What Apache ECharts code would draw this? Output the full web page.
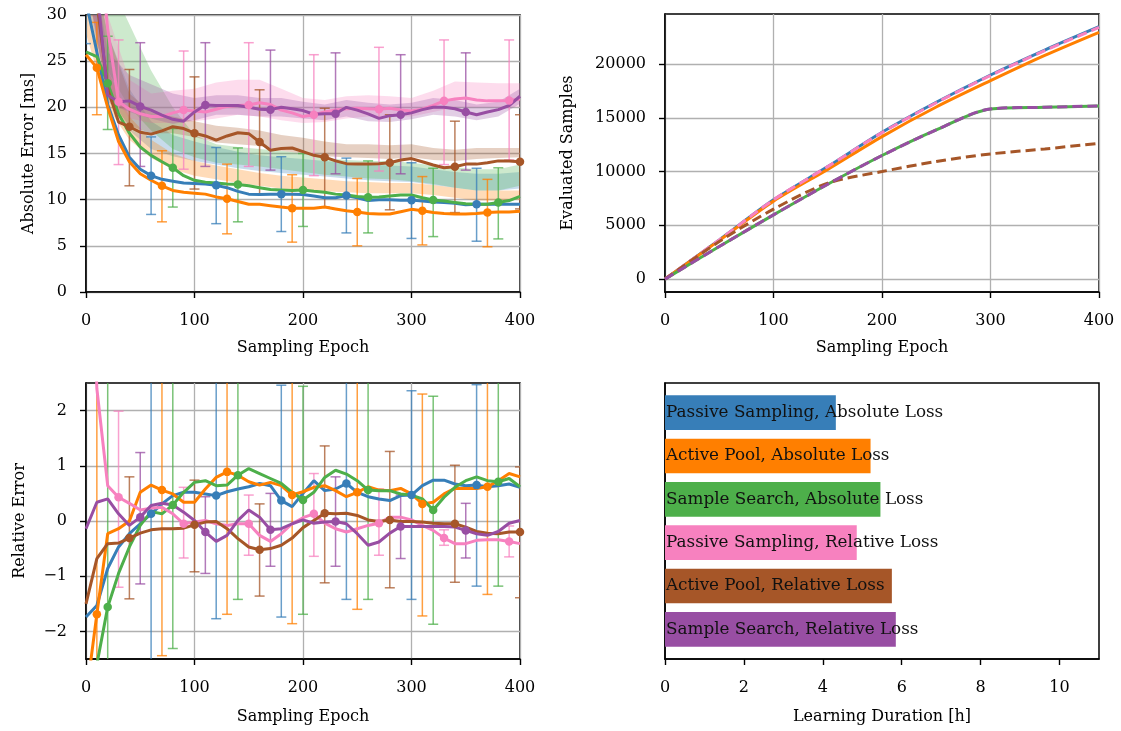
<!DOCTYPE html>
<html><head><meta charset="utf-8">
<script src="https://cdn.jsdelivr.net/npm/echarts@6/dist/echarts.min.js"></script>
<style>html,body{margin:0;padding:0;background:#fff}#c{width:1121px;height:731px}</style>
</head><body><div id="c"></div>
<script>
const FONT = 'DejaVu Serif';
const COLORS = ['#377eb8', '#ff7f00', '#4daf4a', '#f781bf', '#a65628', '#984ea3'];

const epochs = [0,10,20,30,40,50,60,70,80,90,100,110,120,130,140,150,160,170,180,190,200,210,220,230,240,250,260,270,280,290,300,310,320,330,340,350,360,370,380,390,400];
const bandEpochs = [0,20,40,60,80,100,120,140,160,180,200,220,240,260,280,300,320,340,360,380,400];

// Absolute error [ms]
const absBlue   = [31.5,26.0,20.3,17.0,14.6,13.3,12.6,12.2,12.0,11.8,11.75,11.7,11.55,11.3,10.9,10.6,10.55,10.6,10.6,10.6,10.55,10.4,10.2,10.2,10.45,10.2,9.9,10.0,10.0,9.95,9.95,9.85,9.75,9.7,9.6,9.45,9.5,9.5,9.5,9.5,9.5];
const absOrange = [25.7,24.3,20.0,16.3,14.1,12.8,12.1,11.5,11.0,10.8,10.7,10.6,10.3,10.1,9.8,9.5,9.5,9.35,9.2,9.06,9.06,9.06,9.2,9.0,8.8,8.67,8.5,8.45,8.45,8.7,8.95,8.8,8.6,8.5,8.45,8.45,8.5,8.6,8.67,8.67,8.75];
const absGreen  = [26.0,25.5,22.6,19.3,17.2,15.7,14.8,14.1,13.45,12.6,12.1,11.9,11.8,11.7,11.65,11.5,11.3,11.1,11.05,11.0,11.05,10.9,10.8,10.6,10.5,10.35,10.25,10.3,10.4,10.5,10.5,10.2,9.96,9.85,9.7,9.55,9.5,9.5,9.7,9.9,10.35];
const absPink   = [40,40,28.5,20.6,19.8,19.3,19.0,19.0,19.4,19.7,19.6,19.5,19.8,20.1,20.2,20.25,20.5,20.3,19.7,19.4,19.0,19.2,19.5,19.7,19.85,19.9,19.85,19.8,19.9,19.7,19.6,19.8,20.2,20.7,20.9,21.0,20.8,20.7,20.7,20.75,20.9];
const absBrown  = [40,31.5,22.0,18.4,17.9,17.3,17.1,17.45,17.9,17.7,17.2,16.9,16.45,16.9,17.25,17.15,16.25,15.35,15.55,15.6,15.2,14.8,14.6,14.2,13.9,13.85,13.85,13.9,14.0,14.3,14.45,14.1,13.75,13.45,13.56,13.85,13.85,14.0,14.2,14.2,14.1];
const absPurple = [40,33,21.3,20.6,20.7,20.1,19.7,19.15,18.7,18.5,19.5,20.25,20.2,20.2,20.2,20.0,19.8,19.75,20.0,19.85,19.65,19.25,19.3,19.3,20.0,19.7,19.3,18.8,19.1,19.2,19.4,19.75,20.0,20.0,19.85,19.5,19.2,19.5,19.75,20.2,21.2];

// shaded bands (lower / upper), every 20 epochs
const bandBlueLo   = [32,22,17.5,15.5,14.7,14.2,13.8,13.4,13.1,12.9,12.7,12.5,12.3,12.1,12.0,11.9,11.6,11.3,11.0,11.0,11.2];
const bandBlueHi   = [38,28,22,18.5,17.0,16.3,15.7,15.2,14.8,14.6,14.4,14.2,14.0,13.8,13.7,13.6,13.3,13.0,12.8,12.8,13.0];
const bandOrangeLo = [28,20,16.5,14.5,13.3,12.6,12.2,11.8,11.5,11.2,11.0,10.9,10.8,10.7,10.7,10.7,10.5,10.2,9.9,9.9,10.0];
const bandOrangeHi = [34,24,19,16.5,15.0,14.2,13.7,13.3,12.9,12.6,12.4,12.2,12.0,11.9,11.8,11.8,11.6,11.3,11.0,11.0,11.0];
const bandGreenLo  = [34,24,20,17.5,15.5,14.6,14.0,13.8,13.6,13.3,13.0,12.7,12.5,12.3,12.2,12.0,11.7,11.3,11.0,11.0,11.5];
const bandGreenHi  = [40,34,29,24,20,17.0,16.0,15.7,15.5,15.3,15.0,14.5,14.3,14.2,14.2,14.0,13.7,13.5,13.3,13.3,13.8];
const bandPinkLo   = [34,22,18.8,18.3,18.3,18.5,18.8,19.2,19.0,18.6,18.3,18.4,18.8,19.0,19.0,19.0,19.5,20.0,20.0,20.0,20.0];
const bandPinkHi   = [40,30,23.0,21.5,21.8,22.0,22.7,23.0,23.0,22.0,21.0,20.8,21.2,21.3,21.2,21.0,21.8,22.8,22.7,22.6,22.6];
const bandBrownLo  = [34,21,18.0,17.2,17.2,16.8,16.2,16.0,15.8,15.3,15.0,14.7,14.6,14.5,14.4,14.6,14.3,14.2,14.4,14.5,14.6];
const bandBrownHi  = [40,28,21.5,19.5,19.0,18.5,18.0,17.8,17.5,17.0,16.7,16.3,16.0,16.0,15.9,16.0,15.6,15.4,15.6,15.6,15.6];
const bandPurpleLo = [34,20.5,19.5,18.8,18.2,18.6,19.2,19.2,19.0,19.0,18.8,18.6,19.0,18.5,18.4,18.7,19.2,19.0,18.6,19.0,20.4];
const bandPurpleHi = [40,26,23.5,22.5,21.5,21.0,21.3,21.3,21.0,21.0,20.6,20.3,20.8,20.5,20.3,20.5,21.0,20.8,20.3,20.6,22.0];

// error bars [epoch, low, high]
const errBlueAbs   = [[0,26.9,36],[60,8.4,16.8],[120,7.4,15.65],[180,6.55,14.65],[240,6.4,14.5],[300,5.8,14.0],[360,5.5,13.4]];
const errOrangeAbs = [[10,19.2,29.2],[70,7.6,15.3],[130,6.3,13.85],[190,5.4,12.7],[250,5.0,12.3],[310,5.1,12.5],[370,4.9,12.2]];
const errGreenAbs  = [[20,17.6,27.7],[80,9.2,17.7],[140,7.6,15.6],[200,7.1,15.0],[260,6.4,14.2],[320,6.0,13.4],[380,5.75,13.45]];
const errPinkAbs   = [[30,13.8,27.3],[90,13.3,26.1],[150,13.6,27.0],[210,12.6,25.7],[270,13.1,26.5],[330,13.8,27.3],[390,14.3,27.3]];
const errBrownAbs  = [[40,11.5,24.1],[100,11.15,23.3],[160,10.6,21.9],[220,9.2,19.9],[280,8.9,19.2],[340,8.6,18.5],[400,9.0,19.2]];
const errPurpleAbs = [[50,13.6,27.0],[110,13.6,27.0],[170,13.2,26.2],[230,12.8,25.9],[290,12.8,25.7],[350,13.2,25.9]];

// Relative error
const relBlue   = [-1.74,-1.53,-0.86,-0.47,-0.23,-0.05,0.13,0.31,0.46,0.52,0.52,0.49,0.46,0.53,0.58,0.62,0.68,0.64,0.37,0.26,0.5,0.73,0.55,0.58,0.68,0.52,0.44,0.40,0.37,0.46,0.47,0.64,0.74,0.74,0.67,0.64,0.65,0.62,0.64,0.67,0.61];
const relOrange = [-3.2,-1.69,-0.23,-0.14,0.0,0.52,0.65,0.56,0.49,0.34,0.34,0.58,0.79,0.89,0.83,0.71,0.65,0.70,0.64,0.47,0.53,0.61,0.64,0.55,0.44,0.52,0.62,0.56,0.55,0.59,0.49,0.31,0.34,0.49,0.59,0.59,0.59,0.62,0.73,0.86,0.80];
const relGreen  = [-5.0,-2.6,-1.56,-0.95,-0.47,-0.08,0.17,0.13,0.29,0.52,0.70,0.73,0.64,0.65,0.83,0.95,0.86,0.77,0.68,0.52,0.38,0.52,0.79,0.92,0.85,0.73,0.56,0.55,0.55,0.49,0.47,0.40,0.20,0.43,0.61,0.73,0.80,0.73,0.71,0.77,0.62];
const relPink   = [8.0,2.4,0.64,0.43,0.32,0.20,0.23,0.25,0.13,-0.05,-0.02,0.01,-0.05,-0.08,-0.05,-0.05,-0.26,-0.37,-0.23,-0.05,0.06,0.13,-0.04,-0.14,-0.20,-0.14,-0.08,-0.04,0.07,0.07,0.02,-0.08,-0.17,-0.31,-0.41,-0.41,-0.35,-0.34,-0.34,-0.37,-0.41];
const relBrown  = [-1.5,-0.68,-0.41,-0.40,-0.31,-0.22,-0.16,-0.14,-0.14,-0.13,-0.07,-0.02,-0.01,-0.14,-0.32,-0.47,-0.52,-0.50,-0.44,-0.31,-0.12,0.01,0.14,0.13,0.14,0.10,0.02,-0.01,0.02,-0.01,-0.01,-0.02,-0.04,-0.05,-0.05,-0.11,-0.19,-0.22,-0.23,-0.20,-0.20];
const relPurple = [-0.14,0.34,0.40,0.13,-0.08,0.07,0.28,0.32,0.29,0.16,0.01,-0.20,-0.37,-0.26,0.01,0.20,0.07,-0.16,-0.14,-0.05,0.02,-0.04,-0.02,-0.01,-0.05,-0.23,-0.44,-0.38,-0.22,-0.10,-0.10,-0.10,-0.10,-0.10,-0.11,-0.17,-0.23,-0.26,-0.19,-0.04,0.01];

const errBlueRel   = [[60,-6,4],[120,-1.77,4],[180,-1.74,2.46],[240,-1.42,4],[300,-1.42,2.36],[360,-1.18,2.47]];
const errOrangeRel = [[10,-6,4],[70,-2.44,4],[130,-1.69,4],[190,-1.86,4],[250,-1.60,4],[310,-1.72,2.30],[370,-1.33,4]];
const errGreenRel  = [[20,-6,4],[80,-2.31,4],[140,-1.42,4],[200,-1.69,2.44],[260,-1.42,4],[320,-1.87,2.26],[380,-1.18,4]];
const errPinkRel   = [[30,-1.2,1.99],[90,-0.67,0.61],[150,-0.62,0.47],[210,-0.64,0.86],[270,-0.62,0.58],[330,-0.44,-0.16],[390,-0.65,-0.09]];
const errBrownRel  = [[40,-1.41,0.80],[100,-0.92,0.74],[160,-1.36,0.31],[220,-1.12,1.36],[280,-1.21,1.26],[340,-1.11,1.01],[400,-1.39,0.98]];
const errPurpleRel = [[50,-1.14,1.24],[110,-0.95,0.44],[170,-0.82,0.50],[230,-0.82,0.80],[290,-0.68,0.47],[350,-0.67,0.32]];

// Evaluated samples
const sampEpochs = [0,50,100,150,200,250,300,350,400];
const sampBlue   = [0,3650,7370,10460,13650,16440,18980,21300,23470];
const sampOrange = [0,3600,7250,10200,13250,16000,18450,20800,22950];
const sampGreen  = [0,3030,5975,8820,11490,13870,15820,15980,16100];
const sampPink   = [0,3650,7370,10460,13620,16400,18930,21250,23400];
const sampBrown  = [0,3500,6500,8920,10000,10930,11640,12100,12630];
const sampPurple = [0,3030,5975,8820,11490,13870,15820,15980,16100];

// Learning duration
const methods = ['Passive Sampling, Absolute Loss','Active Pool, Absolute Loss','Sample Search, Absolute Loss','Passive Sampling, Relative Loss','Active Pool, Relative Loss','Sample Search, Relative Loss'];
const durations = [4.33, 5.21, 5.46, 4.86, 5.75, 5.85];

const sampTicks = [0,5000,10000,15000,20000];
const relTicks = [-2,-1,0,1,2];
const durTicks = [0,2,4,6,8,10];

// ---------- helpers ----------
const pairs = (xs, ys) => xs.map((x, i) => [x, ys[i]]);
const minus = v => String(v).replace('-', '\u2212');

function axis(extra, isY) {
  const base = {
    type: 'value',
    axisLine: {show: true, onZero: false, lineStyle: {color: '#000', width: 1.5}},
    axisTick: {show: true, inside: false, length: 6, lineStyle: {color: '#000', width: 1.4}},
    axisLabel: {color: '#000', fontFamily: FONT, fontSize: 16, margin: isY ? 19 : 21, formatter: minus},
    splitLine: {show: true, lineStyle: {color: '#b0b0b0', width: 1.3}},
    nameLocation: 'middle',
    nameTextStyle: {color: '#000', fontFamily: FONT, fontSize: 16},
  };
  return echarts.util.merge(base, extra, true);
}
function ticks(vals) {
  return {axisLabel: {customValues: vals}, axisTick: {customValues: vals}};
}

function band(idx, xs, lo, hi, color) {
  return {
    type: 'custom', xAxisIndex: idx, yAxisIndex: idx, clip: true, silent: true, z: 1,
    data: [[0, 0]],
    renderItem: (params, api) => {
      const pts = [];
      for (let i = 0; i < xs.length; i++) pts.push(api.coord([xs[i], hi[i]]));
      for (let i = xs.length - 1; i >= 0; i--) pts.push(api.coord([xs[i], lo[i]]));
      return {type: 'polygon', shape: {points: pts}, style: {fill: color, opacity: 0.28}};
    }
  };
}
function errbars(idx, data, color) {
  return {
    type: 'custom', xAxisIndex: idx, yAxisIndex: idx, clip: true, silent: true, z: 2,
    data: data, encode: {x: 0, y: [1, 2]},
    renderItem: (params, api) => {
      const x = api.value(0);
      const a = api.coord([x, api.value(1)]), b = api.coord([x, api.value(2)]);
      const st = {stroke: color, lineWidth: 1.5, opacity: 0.75};
      const cw = 5;
      return {type: 'group', children: [
        {type: 'line', shape: {x1: a[0], y1: a[1], x2: b[0], y2: b[1]}, style: st},
        {type: 'line', shape: {x1: a[0] - cw, y1: a[1], x2: a[0] + cw, y2: a[1]}, style: st},
        {type: 'line', shape: {x1: b[0] - cw, y1: b[1], x2: b[0] + cw, y2: b[1]}, style: st},
      ]};
    }
  };
}
function meanLine(idx, ys, err, color) {
  const marks = new Set(err.map(e => e[0]));
  return {
    type: 'line', xAxisIndex: idx, yAxisIndex: idx, z: 3, silent: true,
    data: pairs(epochs, ys),
    symbol: 'circle', showSymbol: true, showAllSymbol: true,
    symbolSize: v => marks.has(v[0]) ? 8.5 : 0,
    itemStyle: {color: color},
    lineStyle: {color: color, width: 3},
  };
}
function sampLine(ys, color, dashed) {
  return {
    type: 'line', xAxisIndex: 1, yAxisIndex: 1, z: 3, silent: true,
    data: pairs(sampEpochs, ys), symbol: 'none', smooth: 0.3,
    lineStyle: {color: color, width: 3, type: dashed ? [10, 5] : 'solid'},
  };
}

const absMeans = [absBlue, absOrange, absGreen, absPink, absBrown, absPurple];
const absErr = [errBlueAbs, errOrangeAbs, errGreenAbs, errPinkAbs, errBrownAbs, errPurpleAbs];
const absBands = [[bandBlueLo, bandBlueHi], [bandOrangeLo, bandOrangeHi], [bandGreenLo, bandGreenHi], [bandPinkLo, bandPinkHi], [bandBrownLo, bandBrownHi], [bandPurpleLo, bandPurpleHi]];
const relMeans = [relBlue, relOrange, relGreen, relPink, relBrown, relPurple];
const relErr = [errBlueRel, errOrangeRel, errGreenRel, errPinkRel, errBrownRel, errPurpleRel];
const sampSeries = [sampBlue, sampOrange, sampGreen, sampPink, sampBrown, sampPurple];

const series = [];
absBands.forEach((b, i) => series.push(band(0, bandEpochs, b[0], b[1], COLORS[i])));
absErr.forEach((e, i) => series.push(errbars(0, e, COLORS[i])));
absMeans.forEach((m, i) => series.push(meanLine(0, m, absErr[i], COLORS[i])));
sampSeries.forEach((s, i) => series.push(sampLine(s, COLORS[i], i >= 3)));
relErr.forEach((e, i) => series.push(errbars(2, e, COLORS[i])));
relMeans.forEach((m, i) => series.push(meanLine(2, m, relErr[i], COLORS[i])));
series.push({
  type: 'bar', xAxisIndex: 3, yAxisIndex: 3, silent: true, barWidth: '80%',
  data: durations.map((d, i) => ({value: d, itemStyle: {color: COLORS[i]}})),
  label: {show: true, position: 'insideLeft', distance: 1, color: '#111', fontFamily: FONT, fontSize: 16.8,
          formatter: p => methods[p.dataIndex]},
});

const gridBase = {show: true, borderColor: '#000', borderWidth: 1.5, backgroundColor: 'transparent', containLabel: false, outerBoundsMode: 'none'};
const option = {
  animation: false,
  textStyle: {fontFamily: FONT},
  grid: [
    Object.assign({left: 86, top: 15, width: 434, height: 277}, gridBase),
    Object.assign({left: 665, top: 14, width: 434, height: 278}, gridBase),
    Object.assign({left: 86, top: 383, width: 434, height: 276}, gridBase),
    Object.assign({left: 665, top: 391, width: 434, height: 260}, gridBase, {show: false}),
    Object.assign({left: 665, top: 383, width: 434, height: 276}, gridBase),
  ],
  xAxis: [
    axis({gridIndex: 0, min: 0, max: 400, interval: 100, name: 'Sampling Epoch', nameGap: 48}),
    axis({gridIndex: 1, min: 0, max: 400, interval: 100, name: 'Sampling Epoch', nameGap: 48}),
    axis({gridIndex: 2, min: 0, max: 400, interval: 100, name: 'Sampling Epoch', nameGap: 50}),
    axis({gridIndex: 3, min: 0, max: 11, show: false}),
    axis(Object.assign({gridIndex: 4, min: 0, max: 11, name: 'Learning Duration [h]', nameGap: 50, splitLine: {show: false}}, ticks(durTicks))),
  ],
  yAxis: [
    axis({gridIndex: 0, min: 0, max: 30, interval: 5, name: 'Absolute Error [ms]', nameGap: 49}, true),
    axis(Object.assign({gridIndex: 1, min: -1200, max: 24650, name: 'Evaluated Samples', nameGap: 89}, ticks(sampTicks)), true),
    axis(Object.assign({gridIndex: 2, min: -2.5, max: 2.5, name: 'Relative Error', nameGap: 58}, ticks(relTicks)), true),
    {gridIndex: 3, type: 'category', data: methods, inverse: true, show: false},
    axis({gridIndex: 4, min: 0, max: 1, axisTick: {show: false}, axisLabel: {show: false}, splitLine: {show: false}}, true),
  ],
  series: series,
};
const chart = echarts.init(document.getElementById('c'), null, {renderer: 'canvas'});
chart.setOption(option);
</script>
</body></html>
